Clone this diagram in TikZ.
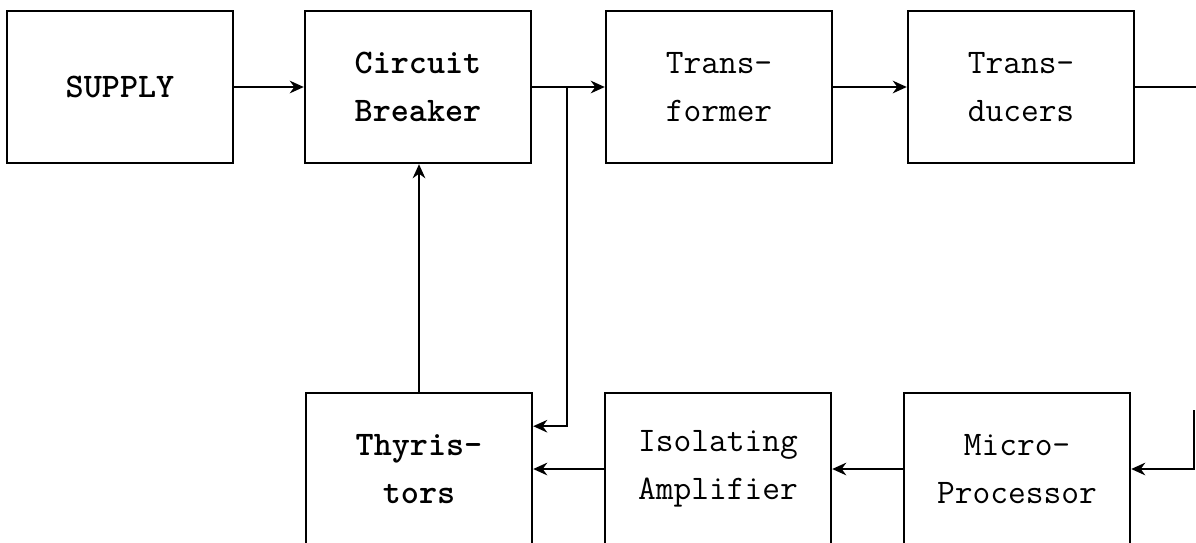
\documentclass[tikz,border=0pt]{standalone}
\usepackage{fontspec}
\usetikzlibrary{arrows.meta, positioning, calc}

\begin{document}
\begin{tikzpicture}[x=0.025cm, y=-0.025cm,
    block/.style={draw, line width=1.7pt, minimum width=5.65cm, minimum height=3.8cm,
        align=center, font=\fontsize{24.5}{34}\selectfont\ttfamily},
    boldblock/.style={block, font=\fontsize{24.5}{34}\selectfont\ttfamily\bfseries},
    flow/.style={line width=1.2pt, -{Stealth[length=10pt, width=9pt]}}]
    \useasboundingbox (0,0) rectangle (1196,542);
    \clip (0,0) rectangle (1196,542);

    % top row
    \node[boldblock] (supply) at (120,87) {SUPPLY};
    \node[boldblock] (breaker) at (418,87) {Circuit\\Breaker};
    \node[block] (transformer) at (719,87) {Trans-\\former};
    \node[block] (transducers) at (1021,87) {Trans-\\ducers};

    % bottom row
    \node[boldblock] (thyristors) at (419,469) {Thyris-\\tors};
    \node[block] (isolating) at (718,469) {Isolating\\Amplifier};
    \node[block] (micro) at (1017,469) {Micro-\\Processor};

    \draw[flow] (supply) -- (breaker);
    \draw[flow] (breaker) -- (transformer);
    \draw[flow] (transformer) -- (transducers);

    \coordinate (tap) at ($(breaker.east)!0.48!(transformer.west)$);
    \draw[flow] (tap) |- ([yshift=1.07cm]thyristors.east);

    \coordinate (outR) at (1200,87);
    \draw[line width=1.2pt] (transducers) -- (outR);
    \coordinate (inR) at (1194,410);
    \draw[flow] (inR) |- (micro);

    \draw[flow] (micro) -- (isolating);
    \draw[flow] (isolating) -- (thyristors);
    \draw[flow] (thyristors.north) -- (thyristors.north |- breaker.south);
\end{tikzpicture}
\end{document}
